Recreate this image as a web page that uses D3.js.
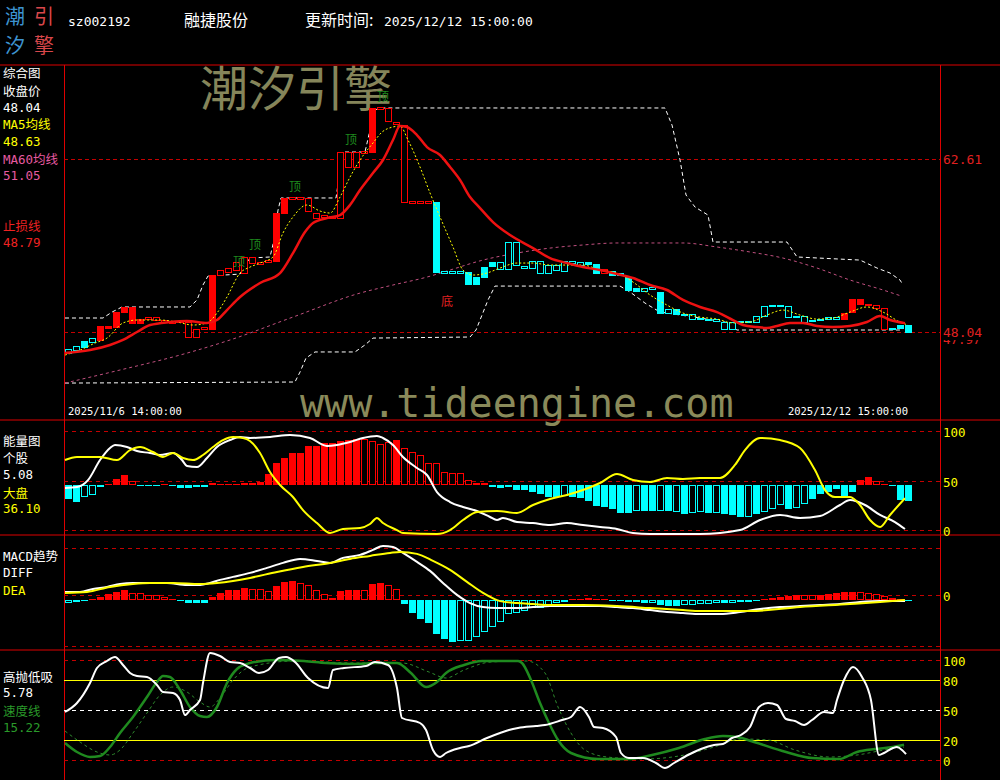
<!DOCTYPE html>
<html><head><meta charset="utf-8">
<script src="https://cdn.jsdelivr.net/npm/d3@7"></script>
<style>html,body{margin:0;padding:0;background:#000;}svg{display:block;}</style>
</head><body>
<svg id="c" width="1000" height="780"></svg>
<script>
// ---------------- DATA ----------------
const barCount = 106;
const opens = [46.27,46.52,46.78,47.20,47.37,48.38,48.46,49.72,50.15,48.80,
49.13,49.30,49.05,48.97,48.88,48.88,47.62,48.29,48.29,52.84,
53.09,53.26,54.36,53.85,53.94,53.94,54.02,58.06,59.24,59.41,
59.33,58.06,57.73,57.81,57.64,63.20,61.94,63.12,63.20,66.82,
66.91,65.73,65.47,59.07,58.90,59.07,58.99,53.18,53.01,53.18,
53.09,52.08,52.67,53.60,53.94,53.35,55.62,53.60,53.43,54.02,
53.01,53.68,53.18,54.02,53.94,53.94,53.77,53.01,53.18,53.01,
52.67,51.75,51.49,51.83,51.41,49.64,49.98,49.56,49.56,49.22,
49.13,49.13,48.88,48.29,48.97,48.88,48.88,49.39,50.23,50.31,
50.23,49.30,49.39,48.97,49.05,49.13,49.30,49.13,49.72,50.40,
50.40,50.31,50.06,48.38,48.63,48.63];
const closes = [46.61,46.86,47.28,47.53,48.55,48.55,49.72,50.15,48.80,49.13,
49.30,49.05,48.88,48.80,48.97,47.62,48.29,48.46,52.84,53.26,
53.43,53.94,53.01,54.36,53.77,54.10,58.06,59.33,59.41,59.24,
58.23,57.64,57.89,57.64,63.20,61.94,63.20,63.28,66.91,66.99,
65.81,65.56,58.99,58.90,59.07,58.90,53.09,53.01,53.18,53.01,
52.08,52.67,53.51,53.94,53.35,55.62,53.68,53.43,54.02,53.01,
53.68,53.26,54.02,53.85,53.68,53.77,53.01,53.35,52.84,52.84,
51.58,51.49,51.75,51.66,49.64,49.98,49.56,49.47,49.13,49.13,
49.05,48.97,48.29,48.88,48.88,48.97,49.39,50.23,50.31,50.23,
49.30,49.39,48.88,49.05,49.13,49.30,49.13,49.64,50.82,50.82,
50.31,50.06,48.29,48.29,48.38,48.04];
// R red filled, r red hollow, C cyan filled, c cyan hollow
const kStyle = "ccCcRRRRRR"+"rrrrrrrrRr"+"rrrrrrRRrr"+"rrrrrrrrRr"+"rrrrrrCccc"+
               "CCCCcccccc"+"cccccCCrCc"+"CCccCcCccc"+"cccccccccc"+"cccccccRRR"+"rrrcCC";

// main overlays: [bar index, price]
const upperBand = [[-0.44,49.22],[4.31,49.22],[5.44,49.72],[6.69,50.15],[15.19,50.15],[16.06,50.74],[16.81,52.00],[17.44,52.76],[21.44,52.92],[22.06,53.68],[22.69,54.27],[25.19,54.36],[25.69,55.79],[26.19,58.31],[26.56,59.33],[33.44,59.33],[33.94,61.68],[34.31,63.20],[37.06,63.20],[37.69,65.05],[38.31,66.74],[38.94,66.91],[74.56,66.91],[75.44,65.47],[76.44,62.53],[77.19,59.58],[78.31,58.57],[79.94,57.89],[80.56,55.62],[89.81,55.62],[91.06,54.36],[98.94,54.10],[101.06,53.43],[102.69,53.01],[103.94,52.42],[104.31,52.00]];
const lowerBand = [[-0.44,43.74],[28.31,43.83],[28.94,44.67],[29.69,45.85],[30.81,46.36],[35.81,46.36],[37.06,46.95],[38.06,47.53],[50.19,47.62],[50.94,48.21],[51.69,49.47],[52.44,50.74],[53.31,51.91],[68.94,51.91],[70.19,51.41],[72.06,50.48],[73.94,49.72],[74.81,49.64],[78.94,49.22],[82.06,48.88],[83.56,48.21],[104.31,48.21]];
const ma5 = [[-0.44,46.10],[1.44,46.52],[3.31,47.11],[4.81,47.53],[6.81,48.80],[8.56,49.05],[11.44,49.05],[13.56,48.88],[15.56,48.63],[17.31,48.80],[18.56,49.64],[19.81,50.99],[21.44,53.01],[22.69,53.51],[23.94,53.85],[25.56,54.36],[26.81,56.38],[28.06,57.73],[29.81,58.74],[31.44,58.23],[32.69,58.06],[33.94,59.41],[35.19,61.09],[36.44,62.53],[38.06,63.96],[39.19,64.88],[40.56,65.31],[41.44,65.39],[42.44,64.21],[43.94,61.94],[45.19,59.75],[46.44,57.73],[48.06,55.20],[49.31,53.26],[50.56,52.84],[52.31,53.01],[53.94,53.43],[56.06,53.85],[58.06,53.85],[60.19,53.68],[62.31,53.68],[64.31,53.68],[66.44,53.26],[68.56,53.01],[70.56,52.25],[72.69,51.16],[74.81,50.31],[76.81,49.64],[78.94,49.30],[81.06,49.13],[83.06,48.80],[85.19,48.88],[87.31,49.47],[89.31,49.89],[91.44,49.47],[93.56,49.13],[95.56,49.22],[97.69,49.72],[99.81,50.15],[101.81,49.72],[103.94,48.88],[104.94,48.63]];
const ma60 = [[-0.44,43.74],[6.44,44.84],[13.94,46.10],[20.19,47.37],[28.06,49.30],[36.44,51.32],[40.56,52.00],[44.81,52.67],[47.69,53.26],[51.81,54.10],[56.06,54.69],[60.19,55.11],[64.31,55.37],[68.56,55.54],[72.69,55.54],[76.81,55.54],[81.06,55.20],[85.19,54.78],[89.31,54.27],[93.56,53.43],[97.69,52.42],[101.81,51.58],[104.19,51.05]];
const stopLine = [[-0.44,46.27],[2.69,46.52],[5.19,46.95],[6.81,47.37],[8.56,48.04],[10.19,48.63],[12.69,48.88],[14.81,48.97],[17.31,48.80],[18.56,49.05],[19.81,49.89],[21.44,50.99],[23.94,52.17],[26.44,53.01],[28.06,54.69],[29.56,56.46],[30.56,57.22],[32.31,57.64],[33.94,57.89],[35.19,58.74],[36.44,60.00],[38.06,61.43],[39.31,62.53],[40.56,64.21],[41.44,65.39],[42.31,65.31],[43.56,64.63],[44.81,63.62],[46.44,62.95],[47.69,61.94],[48.94,60.84],[50.19,59.41],[51.44,58.48],[53.06,57.30],[55.19,56.21],[58.06,55.11],[60.19,54.27],[62.31,53.85],[64.31,53.51],[66.44,53.26],[68.56,52.92],[70.56,52.59],[72.69,52.00],[74.81,51.58],[76.81,50.74],[78.94,50.15],[81.06,49.72],[83.06,49.05],[84.31,48.63],[86.06,48.46],[87.31,48.38],[88.56,48.55],[90.19,48.80],[91.81,48.80],[93.56,48.55],[95.56,48.46],[97.69,48.55],[99.81,48.88],[101.44,49.39],[102.69,49.05],[104.56,48.79]];
const topSigIdx = [21,23,28,35,39];
const topSigPrice = [54.10,55.54,60.42,64.38,68.00];
const botSigIdx = [47];
const botSigPrice = [50.74];
const priceTicks = [62.61, 48.04];
const hiddenPriceTick = 47.97;

// energy panel
const energyHist = [-14.6,-17.7,-12.6,-10.6,-2.5,1,5.6,9.6,3.5,-1.5,
-1.5,-0.5,1,-1.5,-3.5,-3.5,-2.5,-3,1.5,1,
1,1,1.5,1.5,2.5,10.6,21.7,26.8,31.8,31.8,
38.9,38.9,41.9,41.9,43.9,44.9,46,46,43.9,40.9,
42.9,44.9,36.9,32.8,29.8,21.7,21.7,12.6,11.6,11.6,
4.5,2,1.5,-2.5,-3.5,-2.5,-5.6,-5.6,-7.6,-9.6,
-12.6,-12.6,-11.6,-12.6,-13.6,-16.7,-21.7,-22.7,-24.7,-28.8,
-28.8,-26.8,-26.8,-26.8,-26.8,-26.8,-27.8,-29.8,-28.8,-27.8,
-29,-29,-30,-31,-33,-33,-30,-28,-25,-21,
-25,-24,-20,-15,-10,-8,-5,-12,-8,5,
8,4,1,-1,-15.6,-16.7];
const energyStyle = "FFHHHFFFHF"+"FFFFFFFFFF"+"FFFFFFFFFF"+"FFFFFFFHHH"+"HFHHHHHHHH"+
                    "HHHFFHFFFF"+"FFHFFFFFFF"+"FHFFHFHFHH"+"FHFFFHFHHH"+"FHHFFFFFFF"+"FHHFFF";
const energyBase = 50;
const energyStock = [[-0.44,46.5],[1.06,47.5],[2.44,54.5],[3.94,74.7],[5.19,86.9],[5.81,89.9],[7.31,87.9],[8.56,83.8],[10.19,81.8],[11.44,79.8],[13.06,81.8],[14.19,74.7],[14.81,68.7],[16.06,67.7],[17.31,76.8],[18.56,87.9],[20.19,94.9],[21.44,98.0],[22.69,97.0],[25.19,98.0],[27.69,100.0],[30.19,97.0],[32.31,88.9],[33.56,89.9],[35.19,92.9],[36.81,97.0],[38.56,99.0],[39.31,97.0],[40.56,89.9],[41.81,77.8],[43.56,66.7],[44.81,59.6],[46.06,42.4],[47.69,32.3],[49.31,27.3],[51.06,23.2],[52.69,17.2],[53.56,14.1],[54.31,16.2],[56.06,12.1],[58.06,11.1],[60.19,9.1],[62.31,11.1],[64.31,9.1],[66.44,7.1],[68.56,5.1],[70.56,1.0],[72.69,0],[78.94,0],[83.94,4.0],[86.44,14.1],[88.94,19.2],[91.44,16.2],[93.94,18.2],[96.44,29.3],[97.69,34.3],[99.56,29.3],[101.44,19.2],[103.31,12.1],[104.56,5.08]];
const energyMarket = [[-0.44,74.7],[1.06,77.8],[3.94,77.8],[6.06,74.7],[7.69,84.8],[8.94,87.9],[10.56,82.8],[11.81,77.8],[13.06,81.8],[14.31,76.8],[15.56,74.7],[16.81,79.8],[18.06,87.9],[19.31,94.9],[20.56,98.0],[21.81,97.0],[22.69,93.9],[23.94,81.8],[25.19,62.6],[26.44,49.5],[28.06,37.4],[29.31,24.2],[31.06,11.1],[32.69,1.0],[34.31,5.1],[36.44,6.1],[37.69,10.1],[38.56,16.2],[39.31,11.1],[41.06,4.0],[41.81,1.0],[46.06,0],[47.69,4.0],[49.31,14.1],[51.06,22.2],[53.56,23.2],[56.06,21.2],[58.06,29.3],[60.19,35.4],[62.31,39.4],[64.31,44.4],[66.44,51.5],[68.56,60.6],[70.56,54.5],[72.69,52.5],[74.81,56.6],[76.81,55.6],[78.94,56.6],[81.44,56.6],[83.31,69.7],[84.56,84.8],[86.44,97.0],[88.94,94.9],[91.44,86.9],[93.31,64.6],[94.56,44.4],[95.81,37.4],[97.69,37.4],[98.94,29.3],[100.19,14.1],[101.44,7.1],[102.69,19.2],[104.56,36.1]];
const energyTicks = [100, 50, 0];

// MACD panel
const macdHist = [-0.17,-0.12,-0.02,0.03,0.12,0.28,0.38,0.48,0.33,0.32,
0.23,0.22,0.13,0.03,-0.03,-0.15,-0.15,-0.17,0.13,0.33,
0.48,0.48,0.58,0.55,0.52,0.43,0.67,0.87,0.92,0.85,
0.72,0.48,0.28,0.07,0.43,0.5,0.5,0.5,0.77,0.83,
0.72,0.52,-0.22,-0.65,-0.98,-1.15,-1.72,-1.98,-2.1,-2.05,
-2.05,-1.88,-1.6,-1.38,-1.1,-0.72,-0.65,-0.55,-0.43,-0.43,
-0.35,-0.18,-0.1,0.03,0.03,0.08,0.05,0.03,-0.02,-0.05,
-0.1,-0.1,-0.15,-0.15,-0.27,-0.3,-0.3,-0.27,-0.27,-0.22,
-0.2,-0.18,-0.18,-0.15,-0.12,-0.1,-0.05,0.05,0.1,0.15,
0.2,0.25,0.25,0.22,0.25,0.3,0.35,0.38,0.4,0.4,
0.35,0.3,0.2,0.1,0.03,-0.05];
const macdStyle = "HFFFFFFFHH"+"HHHHFFFFFF"+"FFFHHHFFFH"+"HHHHFFFHFF"+"HHFFFFFFFH"+
                  "HHHHHHHHHH"+"HHFFFHHFFF"+"FFFHFFFHHH"+"HHFHHHHFFF"+"FFHHFFFFFH"+"HHHHHF";
const diffLine = [[-0.44,0.38],[1.44,0.38],[3.06,0.53],[4.81,0.63],[6.44,0.78],[8.06,0.83],[10.19,0.83],[12.31,0.83],[14.81,0.73],[16.44,0.73],[17.69,0.83],[18.94,0.98],[20.56,1.13],[22.69,1.33],[24.81,1.58],[26.81,1.83],[28.94,2.03],[31.06,1.93],[32.69,1.83],[34.31,2.08],[36.44,2.23],[38.06,2.48],[39.31,2.68],[40.56,2.63],[41.81,2.33],[43.56,1.88],[45.19,1.43],[46.81,0.83],[48.56,0.23],[50.19,-0.18],[51.81,-0.38],[53.56,-0.43],[56.06,-0.43],[58.06,-0.38],[60.19,-0.33],[64.31,-0.33],[66.44,-0.33],[68.56,-0.38],[70.56,-0.43],[72.69,-0.53],[74.81,-0.63],[76.81,-0.68],[78.94,-0.73],[81.44,-0.73],[83.94,-0.63],[86.44,-0.48],[88.94,-0.38],[91.44,-0.33],[93.94,-0.28],[96.44,-0.23],[98.94,-0.13],[101.44,-0.08],[104.56,-0.08]];
const deaLine = [[-0.44,0.33],[2.31,0.38],[5.19,0.63],[8.06,0.78],[10.19,0.83],[13.06,0.83],[16.44,0.78],[18.56,0.83],[20.56,0.93],[22.69,1.08],[26.06,1.38],[29.31,1.63],[32.69,1.83],[35.19,2.03],[37.69,2.18],[40.19,2.33],[41.44,2.38],[43.56,2.28],[45.56,1.93],[47.69,1.48],[49.81,0.88],[51.81,0.33],[53.94,-0.08],[56.06,-0.18],[58.06,-0.23],[60.19,-0.28],[64.31,-0.28],[68.56,-0.33],[72.69,-0.43],[76.81,-0.53],[78.94,-0.58],[85.19,-0.58],[91.44,-0.38],[97.69,-0.23],[101.44,-0.13],[104.56,-0.03]];
const macdGrid = [2.35, 0, -2.55];
const macdTicks = [0];

// 高抛低吸 panel
const hlWhite = [[-0.44,48],[1.06,57],[2.69,77],[3.56,92],[4.81,99],[5.81,103],[6.81,95],[7.69,87],[8.56,84],[9.81,83],[11.06,75],[11.81,68],[13.06,67],[13.94,60],[14.56,45],[15.19,50],[16.44,60],[16.81,77],[17.69,107],[18.94,104],[20.19,98],[21.44,97],[22.69,92],[23.81,87],[24.94,90],[26.31,102],[27.19,103],[28.31,98],[29.94,82],[32.44,72],[33.06,90],[34.44,92],[37.19,94],[38.31,98],[39.94,95],[41.06,72],[41.69,42],[43.94,37],[44.69,30],[45.56,10],[46.44,3],[47.19,7],[48.94,12],[50.06,14],[52.31,22],[53.94,27],[55.06,30],[56.19,32],[58.44,34],[59.56,35],[61.69,40],[62.81,43],[63.94,53],[65.06,43],[65.69,33],[66.81,32],[68.44,23],[69.06,7],[70.06,2],[71.81,2],[73.44,-3],[74.56,-8],[75.69,-3],[77.44,5],[79.06,11],[80.69,15],[81.81,16],[82.94,22],[84.06,25],[85.19,33],[86.31,53],[87.44,57],[88.56,55],[89.69,41],[90.81,39],[91.94,35],[92.94,40],[94.44,48],[95.56,47],[96.06,60],[96.94,80],[98.06,93],[99.19,83],[100.31,60],[101.31,5],[101.94,7],[103.06,12],[103.56,13],[104.19,10],[104.69,5.78]];
const hlGreen = [[-0.44,17],[1.06,8],[2.69,3],[3.94,4],[5.19,13],[6.44,27],[8.06,43],[9.81,63],[11.06,78],[11.81,84],[12.69,83],[13.94,70],[15.19,53],[16.44,44],[17.31,43],[18.56,53],[19.81,77],[21.06,91],[22.31,96],[22.69,97],[26.06,100],[29.44,99],[32.19,97],[36.06,96],[38.31,97],[41.06,97],[42.81,87],[44.69,73],[46.06,78],[47.19,87],[49.44,95],[51.69,99],[56.19,99],[56.69,97],[57.81,80],[58.94,57],[60.06,37],[61.19,20],[62.81,7],[66.19,1],[70.06,1],[72.94,5],[76.31,12],[79.56,21],[81.81,24],[83.56,23],[85.69,18],[89.69,8],[92.94,2],[96.31,1],[98.56,8],[100.81,11],[103.06,13],[104.44,15.22]];
const hlGreenSlow = [[-0.44,29],[1.44,18],[3.56,8],[5.19,5],[6.44,10],[8.06,27],[9.81,47],[11.44,65],[13.06,73],[14.81,68],[16.44,58],[17.69,53],[18.94,62],[20.56,80],[22.69,93],[28.31,99],[36.06,97],[41.69,97],[45.06,88],[47.19,82],[49.44,90],[52.81,98],[57.31,99],[59.56,87],[61.19,53],[62.81,27],[64.56,10],[67.31,3],[71.81,1],[76.31,4],[80.69,13],[84.06,21],[87.44,20],[90.81,10],[95.19,3],[98.56,5],[101.94,10],[104.44,13]];
const hlTicks = [100, 80, 50, 20, 0];

const startTime = "2025/11/6 14:00:00";
const endTime = "2025/12/12 15:00:00";

// ---------------- DRAW ----------------
const MONO = "'DejaVu Sans Mono','Noto Sans CJK SC',monospace";
const CJK = "'Noto Sans CJK SC',sans-serif";
const RED = "#dd0000", DRED = "#c40000", CYAN = "#00ffff", YEL = "#ffff00", KRED = "#ff0000";
const svg = d3.select('#c').attr('shape-rendering','auto');
svg.append('rect').attr('width',1000).attr('height',780).attr('fill','#000');

const x = d3.scaleLinear().domain([0, barCount-1]).range([68.5, 908.5]);
const yK = d3.scaleLinear().domain([40.63, 70.53]).range([420, 65]);
const yE = d3.scaleLinear().domain([0,100]).range([534, 435]);
const yEg = d3.scaleLinear().domain([0,100]).range([530, 431]);
const yM = d3.scaleLinear().domain([-2.5,2.5]).range([649.5, 549.5]);
const yMg = d3.scaleLinear().domain([-2.5,2.5]).range([645, 545]);
const yH = d3.scaleLinear().domain([0,100]).range([760, 660]);

function hline(y, color, dash, x0=64, x1=940, w=1){
  svg.append('line').attr('x1',x0).attr('x2',x1).attr('y1',y).attr('y2',y)
    .attr('stroke',color).attr('stroke-width',w).attr('stroke-dasharray',dash||null);
}
function path(data, ys, color, w, dash, curve){
  svg.append('path').datum(data)
    .attr('d', d3.line().x(d=>x(d[0])).y(d=>ys(d[1])).curve(curve||d3.curveMonotoneX))
    .attr('fill','none').attr('stroke',color).attr('stroke-width',w)
    .attr('stroke-dasharray',dash||null).attr('stroke-linejoin','round');
}
function txt(s, xx, yy, color, size, fam, anchor){
  return svg.append('text').attr('x',xx).attr('y',yy).attr('fill',color)
    .attr('font-size',size).attr('font-family',fam||MONO).attr('text-anchor',anchor||'start').text(s);
}
// a bar box: filled, or hollow drawn as solid outer box with a black inner box
function boxes(g, rows, color, filled, top, bottom){
  const sel = g.selectAll(null).data(rows).enter();
  sel.append('rect')
    .attr('x', d=>Math.floor(x(d.i))-3).attr('width',7)
    .attr('y', d=>top(d)).attr('height', d=>Math.max(1, bottom(d)-top(d)))
    .attr('fill', d=>color(d)).attr('shape-rendering','crispEdges');
  sel.filter(d=>!filled(d) && bottom(d)-top(d) > 2).append('rect')
    .attr('x', d=>Math.floor(x(d.i))-2).attr('width',5)
    .attr('y', d=>top(d)+1).attr('height', d=>bottom(d)-top(d)-2)
    .attr('fill','#000').attr('shape-rendering','crispEdges');
}

// header logo + titles
txt('潮',5,24,'#3d93cf',20,CJK); txt('引',34,24,'#d9474b',20,CJK);
txt('汐',5,53,'#3d93cf',20,CJK); txt('擎',34,53,'#d9474b',20,CJK);
txt('sz002192',68,26,'#fff',13);
txt('融捷股份',184,26,'#fff',16,CJK);
txt('更新时间: ',305,26,'#fff',16,CJK);
txt('2025/12/12 15:00:00',384,26,'#fff',13);

// watermarks
txt('潮汐引擎',200,106,'#85855a',48,CJK);
txt('www.tideengine.com',300,417,'#8a8a5a',40,"'DejaVu Sans Mono',monospace");

// frame
hline(65,RED,null,0,1000); hline(420,RED,null,0,1000); hline(535,RED,null,0,1000); hline(650,RED,null,0,1000);
svg.append('line').attr('x1',64.5).attr('x2',64.5).attr('y1',65).attr('y2',780).attr('stroke',RED);
svg.append('line').attr('x1',940.5).attr('x2',940.5).attr('y1',65).attr('y2',780).attr('stroke',RED);

// ---- main panel ----
priceTicks.forEach(p=>hline(Math.round(yK(p))+0.5, DRED, '4,3'));
path(lowerBand, yK, '#fff', 1, '4,3', d3.curveLinear);
path(upperBand, yK, '#fff', 1, '4,3', d3.curveLinear);
path(ma60, yK, '#c0507f', 1, '3,3');

const bars = d3.range(barCount).map(i=>({i, o:opens[i], c:closes[i], s:kStyle[i]}));
boxes(svg.append('g'), bars,
  d => (d.s==='R'||d.s==='r') ? KRED : CYAN,
  d => d.s==='R'||d.s==='C',
  d => Math.round(yK(Math.max(d.o,d.c))),
  d => Math.round(yK(Math.min(d.o,d.c))) + 1);

path(ma5, yK, YEL, 1, '2,2');
path(stopLine, yK, '#ee1111', 2.5);

topSigIdx.forEach((k,j)=>txt('顶', x(k)+2.5, yK(topSigPrice[j])+6, '#1e8a1e', 12, CJK, 'middle'));
botSigIdx.forEach((k,j)=>txt('底', x(k)+2.5, yK(botSigPrice[j])+6, '#e02020', 12, CJK, 'middle'));

// price axis labels (47.97 sits half-hidden under 48.04 as in the reference)
txt(d3.format('.2f')(hiddenPriceTick), 943, yK(hiddenPriceTick)+11, '#e02020', 12.5);
svg.append('rect').attr('x',942).attr('y',322).attr('width',58).attr('height',18).attr('fill','#000');
const pa = svg.append('g').attr('transform','translate(940,0)')
  .call(d3.axisRight(yK).tickValues(priceTicks).tickSize(0).tickPadding(3).tickFormat(d3.format('.2f')));
pa.select('.domain').remove();
pa.selectAll('text').attr('fill','#e02020').attr('font-size',13).attr('font-family',MONO);

txt(startTime, 68, 415, '#fff', 10.5);
txt(endTime, 908, 415, '#fff', 10.5, MONO, 'end');

// left labels
const leftLabels = [
 ['综合图','#fff',78],['收盘价','#fff',96],['48.04','#fff',112],['MA5均线',YEL,129],['48.63',YEL,146],
 ['MA60均线','#e65aa0',164],['51.05','#e65aa0',180],['止损线','#ee2222',231],['48.79','#ee2222',247],
 ['能量图','#fff',446],['个股','#fff',463],['5.08','#fff',479],['大盘',YEL,498],['36.10',YEL,513],
 ['MACD趋势','#fff',561],['DIFF','#fff',577],['DEA',YEL,595],
 ['高抛低吸','#fff',682],['5.78','#fff',697],['速度线','#2a9a2a',716],['15.22','#2a9a2a',732]
];
leftLabels.forEach(l=>txt(l[0],3,l[2],l[1],12.5));

function histBars(data, styles, yScale, base){
  const rows = d3.range(barCount).map(i=>({i, v:data[i], s:styles[i]}));
  const b = Math.round(yScale(base));
  boxes(svg.append('g'), rows,
    d => d.v>=0 ? KRED : CYAN,
    d => d.s==='F',
    d => d.v>=0 ? Math.round(yScale(base+d.v)) : b,
    d => d.v>=0 ? b : Math.round(yScale(base+d.v)));
}
function rightAxis(scale, ticks){
  const a = svg.append('g').attr('transform','translate(940,0)')
    .call(d3.axisRight(scale).tickValues(ticks).tickSize(0).tickPadding(3).tickFormat(d3.format('d')));
  a.select('.domain').remove();
  a.selectAll('text').attr('fill',YEL).attr('font-size',12.5).attr('font-family',MONO).attr('dy','0.45em');
}

// ---- energy panel ----
energyTicks.forEach(v=>hline(Math.round(yEg(v))+0.5, DRED, '4,4'));
histBars(energyHist, energyStyle, yE, energyBase);
path(energyStock, yE, '#fff', 2);
path(energyMarket, yE, YEL, 2);
rightAxis(yEg, energyTicks);

// ---- MACD panel ----
macdGrid.forEach(v=>hline(Math.round(yMg(v))+0.5, DRED, '4,4'));
histBars(macdHist, macdStyle, yM, 0);
path(diffLine, yM, '#fff', 2);
path(deaLine, yM, YEL, 2);
rightAxis(yMg, macdTicks);

// ---- 高抛低吸 panel ----
hline(yH(100)+0.5, DRED, '4,4'); hline(yH(0)+0.5, DRED, '4,4');
hline(yH(80)+0.5, YEL, null); hline(yH(20)+0.5, YEL, null);
hline(yH(50)+0.5, '#fff', '4,4');
path(hlGreenSlow, yH, '#2e8b2e', 1, '3,3');
path(hlGreen, yH, '#1f8a1f', 2.5);
path(hlWhite, yH, '#fff', 2);
rightAxis(yH, hlTicks);
</script>
</body></html>
